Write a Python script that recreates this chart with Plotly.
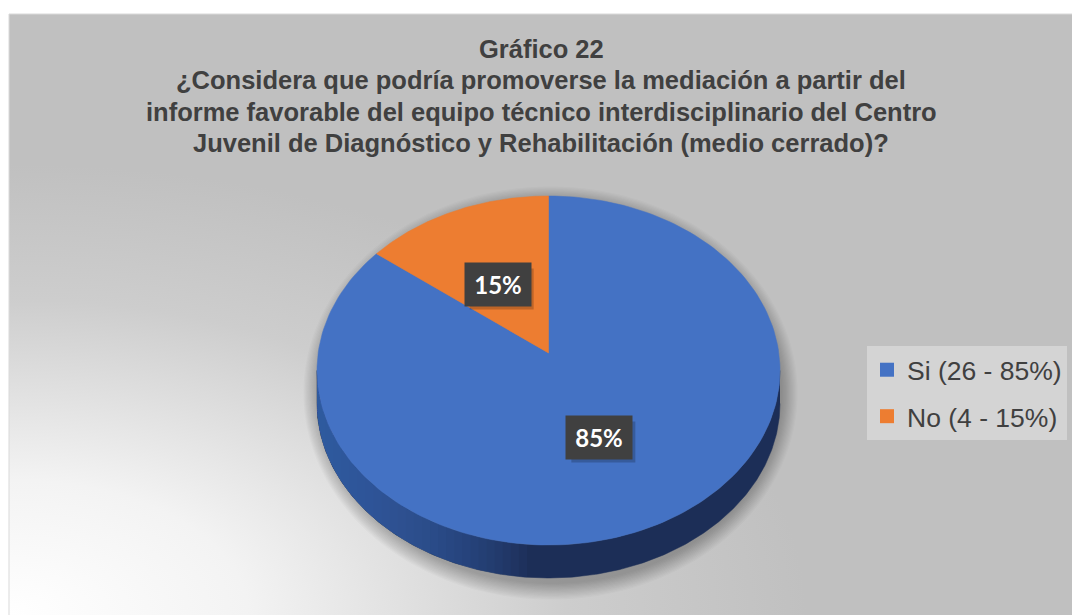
import base64
import numpy as np
import plotly.graph_objects as go

# ---------------- data ----------------
categories = ["Si", "No"]
counts = [26, 4]
percents = [85, 15]
colors = ["#4472C4", "#ED7D31"]
title_lines = [
    "Gráfico 22",
    "¿Considera que podría promoverse la mediación a partir del",
    "informe favorable del equipo técnico interdisciplinario del Centro",
    "Juvenil de Diagnóstico y Rehabilitación (medio cerrado)?",
]

# ---------------- geometry (pixel space) ----------------
W, H = 1072, 615
FX0, FY0 = 9, 14            # chart frame origin
cx, cy = 548.5, 370.5       # top face ellipse center
rx, ry = 231.5, 174.5
apx, apy = 548.5, 353.0     # apex (pie center seen in perspective)
depth = 33

def ell(phi):
    return cx + rx * np.sin(phi), cy - ry * np.cos(phi)

fig = go.Figure()

# background gradient (frame)
svg = f'''<svg xmlns="http://www.w3.org/2000/svg" width="{W-FX0}" height="{H-FY0}" viewBox="0 0 {W-FX0} {H-FY0}" preserveAspectRatio="none">
<defs><radialGradient id="g" cx="0" cy="1" r="0.75" gradientUnits="objectBoundingBox">
<stop offset="0" stop-color="#ffffff"/><stop offset="0.3" stop-color="#f3f3f3"/>
<stop offset="0.7" stop-color="#cdcdcd"/><stop offset="1" stop-color="#c0c0c0"/>
</radialGradient></defs>
<rect x="0" y="0" width="{W-FX0}" height="{H-FY0}" fill="url(#g)"/></svg>'''
src = "data:image/svg+xml;base64," + base64.b64encode(svg.encode()).decode()
fig.add_layout_image(dict(source=src, xref="x", yref="y", x=FX0, y=FY0,
                          sizex=W - FX0, sizey=H - FY0, sizing="stretch",
                          layer="below", xanchor="left", yanchor="top"))

# soft shadow
t = np.linspace(0, 2 * np.pi, 200)
for k in range(14):
    srx = rx + 1.2 * k
    sry = (ry + depth / 2) + 1.2 * k
    fig.add_trace(go.Scatter(
        x=cx + 2 + srx * np.sin(t), y=cy + depth / 2 + 6 + sry * np.cos(t),
        fill="toself", mode="none", fillcolor="rgba(0,0,0,0.02)",
        hoverinfo="skip", showlegend=False))

# side wall (front half): dark base band
p = np.linspace(np.pi / 2, 3 * np.pi / 2, 300)
xs, ys = ell(p)
fig.add_trace(go.Scatter(x=np.concatenate([xs, xs[::-1]]),
                         y=np.concatenate([ys, ys[::-1] + depth]),
                         fill="toself", mode="lines", line=dict(color="#1C2E57", width=0.5),
                         fillcolor="#1C2E57", hoverinfo="skip", showlegend=False))
# lighter shading toward the left edge (accumulating translucent layers)
nl = 26
for k in range(nl):
    xk = (cx - rx) + 210.0 * (k + 1) / nl
    phik = np.pi + np.arcsin(min((cx - xk) / rx, 1.0))
    p = np.linspace(phik, 3 * np.pi / 2, 80)
    xs, ys = ell(p)
    fig.add_trace(go.Scatter(x=np.concatenate([xs, xs[::-1]]),
                             y=np.concatenate([ys, ys[::-1] + depth]),
                             fill="toself", mode="none", fillcolor="rgba(58,102,176,0.065)",
                             hoverinfo="skip", showlegend=False))

# top face slices
total = sum(counts)
start = 0.0
label_pos = []
for cat, v, pct, col in zip(categories, counts, percents, colors):
    frac = v / total
    a0, a1 = start * 2 * np.pi, (start + frac) * 2 * np.pi
    p = np.linspace(a0, a1, 200)
    xs, ys = ell(p)
    fig.add_trace(go.Scatter(x=np.concatenate([[apx], xs, [apx]]),
                             y=np.concatenate([[apy], ys, [apy]]),
                             fill="toself", mode="lines", line=dict(color=col, width=0.5),
                             fillcolor=col, hoverinfo="skip", showlegend=False))
    mx, my = ell((a0 + a1) / 2)
    label_pos.append((apx + 0.54 * (mx - apx), apy + 0.48 * (my - apy), f"{pct}%"))
    start += frac

# legend entries
for cat, v, pct, col in zip(categories, counts, percents, colors):
    fig.add_trace(go.Scatter(x=[None], y=[None], mode="markers", name=f"{cat} ({v} - {pct}%)",
                             marker=dict(symbol="square", size=14, color=col),
                             legendgroup=cat))

# data labels with a drop shadow
for x, y, txt in label_pos:
    fig.add_shape(type="rect", xref="x", yref="y", x0=x - 32 + 4, x1=x + 32 + 4,
                  y0=y - 20.5 + 4, y1=y + 20.5 + 4, line=dict(width=0),
                  fillcolor="rgba(0,0,0,0.2)", layer="above")
    fig.add_annotation(x=x, y=y, xref="x", yref="y", text=f"<b>{txt}</b>", showarrow=False,
                       width=64, height=41, bgcolor="#404040",
                       font=dict(family="Lato", size=24, color="white"))

# title lines
ty = [49, 80, 112, 143]
for line, y in zip(title_lines, ty):
    fig.add_annotation(x=541, y=y, xref="x", yref="y", text=f"<b>{line}</b>", showarrow=False,
                       font=dict(family="Liberation Sans, Arial", size=25.5, color="#404040"),
                       yanchor="middle")

# frame border
fig.add_shape(type="rect", xref="x", yref="y", x0=FX0, y0=FY0, x1=W + 2, y1=H + 2,
              line=dict(color="#d9d9d9", width=1), fillcolor="rgba(0,0,0,0)", layer="above")

fig.update_layout(
    width=W, height=H, margin=dict(l=0, r=0, t=0, b=0),
    paper_bgcolor="white", plot_bgcolor="rgba(0,0,0,0)",
    xaxis=dict(range=[0, W], visible=False, fixedrange=True),
    yaxis=dict(range=[H, 0], visible=False, fixedrange=True),
    legend=dict(x=867 / W, y=1 - 346 / H, xanchor="left", yanchor="top",
                bgcolor="#D4D4D4", font=dict(family="Liberation Sans, Arial", size=26.5, color="#404040"),
                tracegroupgap=9, itemwidth=30),
    showlegend=True,
)

fig.write_html("out.html", config={"displayModeBar": False},
               post_script="document.body.style.margin='0px';")
